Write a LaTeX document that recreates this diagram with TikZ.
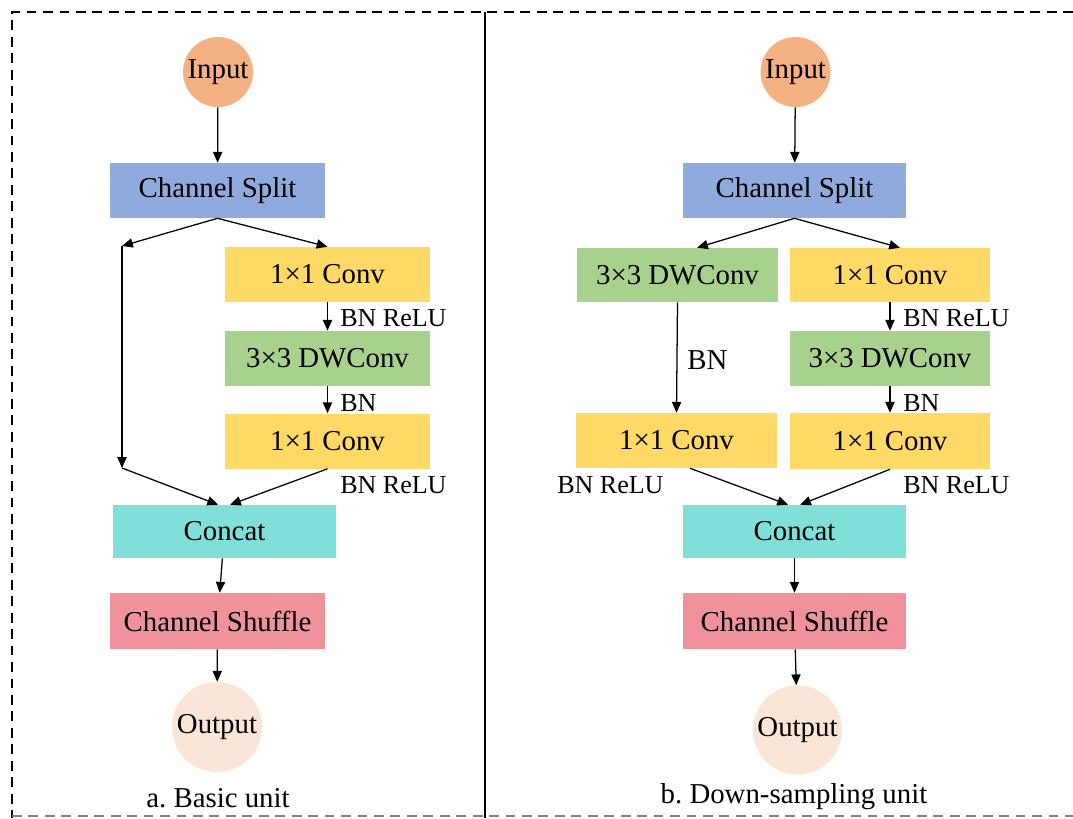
\documentclass[tikz,border=0pt]{standalone}
\usepackage{fontspec}
\setmainfont{Liberation Serif}
\usetikzlibrary{arrows.meta}
\frenchspacing

\definecolor{inputc}{HTML}{F4B183}
\definecolor{splitc}{HTML}{8FAADC}
\definecolor{convc}{HTML}{FFD966}
\definecolor{dwc}{HTML}{A9D18E}
\definecolor{catc}{HTML}{80DFD8}
\definecolor{shufc}{HTML}{EF929C}
\definecolor{outc}{HTML}{FBE5D6}

\newcommand\boxfont{\fontsize{20.5}{24}\selectfont}
\newcommand\lblfont{\fontsize{18.5}{22}\selectfont}

\tikzset{
  blk/.style={rectangle, inner sep=0pt, minimum height=1.375cm, font=\boxfont},
  rnd/.style={circle, inner sep=0pt, font=\boxfont},
  arr/.style={-{Triangle[length=2.7mm,width=2.3mm]}, line width=0.9pt},
  lbl/.style={anchor=west, inner sep=0pt, font=\lblfont},
  frame/.style={dash pattern=on 7pt off 4.7pt, line width=1.4pt},
}

\begin{document}
\begin{tikzpicture}[x=0.025cm,y=-0.025cm]
\useasboundingbox (0,0) rectangle (1073,818);
% frame
\draw[frame] (1073,12) -- (12,12) -- (12,818);
\draw[frame, gray, line width=1pt] (12,816) -- (1073,816);
\draw[line width=1.4pt] (485,12) -- (485,818);

% a. basic unit
\node[rnd, fill=inputc, minimum size=1.75cm] (inA) at (218,72) {Input};
\node[blk, fill=splitc, minimum width=5.375cm] (splitA) at (217.5,190.5) {Channel Split};
\node[blk, fill=convc, minimum width=5.125cm] (c1A) at (327.5,274.5) {1×1 Conv};
\node[blk, fill=dwc, minimum width=5.125cm] (dwA) at (327.5,358.5) {3×3 DWConv};
\node[blk, fill=convc, minimum width=5.125cm] (c2A) at (327.5,441) {1×1 Conv};
\node[blk, fill=catc, minimum width=5.575cm, minimum height=1.325cm] (catA) at (224.5,531.5) {Concat};
\node[blk, fill=shufc, minimum width=5.375cm, minimum height=1.4cm] (shufA) at (217.5,621) {Channel Shuffle};
\node[rnd, fill=outc, minimum size=2.25cm] (outA) at (217,727) {Output};
\coordinate (topA) at (122,246);
\coordinate (botA) at (122,468);

\draw[arr] (inA) -- (splitA);
\draw[arr] (splitA.south) -- (topA);
\draw[arr] (splitA.south) -- (c1A.north);
\draw[arr] (topA) -- (botA);
\draw[arr] (botA) -- ([xshift=-0.16cm]catA.north);
\draw[arr] (c1A) -- (dwA);
\draw[arr] (dwA) -- (c2A);
\draw[arr] (c2A.south) -- ([xshift=0.14cm]catA.north);
\draw[arr] (catA) -- (shufA);
\draw[arr] (shufA) -- (outA);

\node[lbl] (l1A) at (340,318) {BN ReLU};
\node[lbl] (l2A) at (340,403) {BN};
\node[lbl] (l3A) at (340,485) {BN ReLU};
\node[font=\boxfont] (capA) at (218,798) {a. Basic unit};

% b. down-sampling unit
\node[rnd, fill=inputc, minimum size=1.75cm] (inB) at (795.5,72) {Input};
\node[blk, fill=splitc, minimum width=5.575cm] (splitB) at (794.5,190.5) {Channel Split};
\node[blk, fill=dwc, minimum width=5.025cm, minimum height=1.35cm] (dw1B) at (677.5,275) {3×3 DWConv};
\node[blk, fill=convc, minimum width=5cm, minimum height=1.35cm] (c1B) at (890,275) {1×1 Conv};
\node[blk, fill=dwc, minimum width=5cm] (dw2B) at (890,358.5) {3×3 DWConv};
\node[blk, fill=convc, minimum width=5cm, minimum height=1.4cm] (c2B) at (890,441) {1×1 Conv};
\node[blk, fill=convc, minimum width=5.025cm] (c3B) at (676.5,440.5) {1×1 Conv};
\node[blk, fill=catc, minimum width=5.575cm, minimum height=1.325cm] (catB) at (794.5,531.5) {Concat};
\node[blk, fill=shufc, minimum width=5.575cm, minimum height=1.4cm] (shufB) at (794.5,621) {Channel Shuffle};
\node[rnd, fill=outc, minimum size=2.225cm] (outB) at (797.5,730) {Output};

\draw[arr] (inB) -- (splitB);
\draw[arr] (splitB.south) -- ([xshift=0.49cm]dw1B.north);
\draw[arr] (splitB.south) -- ([xshift=0.25cm]c1B.north);
\draw[arr] (dw1B.south) -- (c3B.north);
\draw[arr] (c1B) -- (dw2B);
\draw[arr] (dw2B) -- (c2B);
\draw[arr] ([xshift=0.34cm]c3B.south) -- ([xshift=-0.16cm]catB.north);
\draw[arr] (c2B.south) -- ([xshift=0.14cm]catB.north);
\draw[arr] (catB) -- (shufB);
\draw[arr] (shufB) -- (outB);

\node[lbl] (l1B) at (903,318) {BN ReLU};
\node[lbl] (l2B) at (903,403) {BN};
\node[lbl] (l3B) at (903,485) {BN ReLU};
\node[lbl] (l4B) at (557,485) {BN ReLU};
\node[lbl, font=\boxfont] (l5B) at (687,360) {BN};
\node[font=\boxfont] (capB) at (794,797) {b. Down-sampling unit};
\end{tikzpicture}
\end{document}
